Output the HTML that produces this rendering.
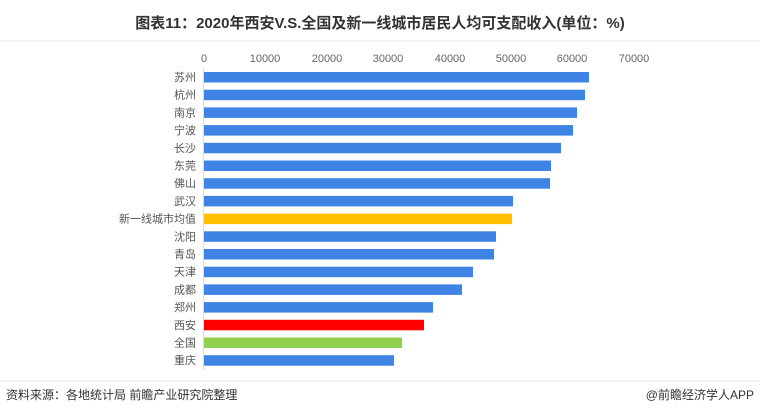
<!DOCTYPE html><html><head><meta charset="utf-8"><style>body{margin:0;background:#fff}svg{display:block}text{font-family:"Liberation Sans","Noto Sans CJK SC",sans-serif}</style></head><body>
<svg width="760" height="413" xmlns="http://www.w3.org/2000/svg">
<text x="380" y="28" text-anchor="middle" font-size="15" font-weight="bold" fill="#333">图表11：2020年西安V.S.全国及新一线城市居民人均可支配收入(单位：%)</text>
<line x1="0" y1="41" x2="760" y2="41" stroke="#ccc" stroke-width="0.6"/>
<g font-size="11" fill="#666" text-anchor="middle">
<text x="204" y="62">0</text><text x="265" y="62">10000</text><text x="327" y="62">20000</text><text x="388" y="62">30000</text><text x="450" y="62">40000</text><text x="511" y="62">50000</text><text x="572" y="62">60000</text><text x="634" y="62">70000</text></g>
<line x1="203.5" y1="68" x2="203.5" y2="370" stroke="#ddd"/>
<g id="b"></g>
<g font-size="11" fill="#555" text-anchor="end">
<rect x="204" y="72" width="385" height="10.5" fill="#3f84e5"/><text x="196" y="81">苏州</text>
<rect x="204" y="89.7" width="381" height="10.5" fill="#3f84e5"/><text x="196" y="98.7">杭州</text>
<rect x="204" y="107.4" width="373" height="10.5" fill="#3f84e5"/><text x="196" y="116.4">南京</text>
<rect x="204" y="125.1" width="369" height="10.5" fill="#3f84e5"/><text x="196" y="134.1">宁波</text>
<rect x="204" y="142.8" width="357" height="10.5" fill="#3f84e5"/><text x="196" y="151.8">长沙</text>
<rect x="204" y="160.5" width="347" height="10.5" fill="#3f84e5"/><text x="196" y="169.5">东莞</text>
<rect x="204" y="178.2" width="346" height="10.5" fill="#3f84e5"/><text x="196" y="187.2">佛山</text>
<rect x="204" y="195.9" width="309" height="10.5" fill="#3f84e5"/><text x="196" y="204.9">武汉</text>
<rect x="204" y="213.6" width="308" height="10.5" fill="#ffc000"/><text x="196" y="222.6">新一线城市均值</text>
<rect x="204" y="231.3" width="292" height="10.5" fill="#3f84e5"/><text x="196" y="240.3">沈阳</text>
<rect x="204" y="249" width="290" height="10.5" fill="#3f84e5"/><text x="196" y="258">青岛</text>
<rect x="204" y="266.7" width="269" height="10.5" fill="#3f84e5"/><text x="196" y="275.7">天津</text>
<rect x="204" y="284.4" width="258" height="10.5" fill="#3f84e5"/><text x="196" y="293.4">成都</text>
<rect x="204" y="302.1" width="229" height="10.5" fill="#3f84e5"/><text x="196" y="311.1">郑州</text>
<rect x="204" y="319.8" width="220" height="10.5" fill="#ff0000"/><text x="196" y="328.8">西安</text>
<rect x="204" y="337.5" width="198" height="10.5" fill="#92d050"/><text x="196" y="346.5">全国</text>
<rect x="204" y="355.2" width="190" height="10.5" fill="#3f84e5"/><text x="196" y="364.2">重庆</text>
</g>
<line x1="0" y1="381" x2="760" y2="381" stroke="#ccc" stroke-width="0.6"/>
<text x="6" y="399" font-size="12" fill="#333">资料来源：各地统计局 前瞻产业研究院整理</text>
<text x="754" y="399" font-size="12" fill="#333" text-anchor="end">@前瞻经济学人APP</text>
</svg></body></html>
